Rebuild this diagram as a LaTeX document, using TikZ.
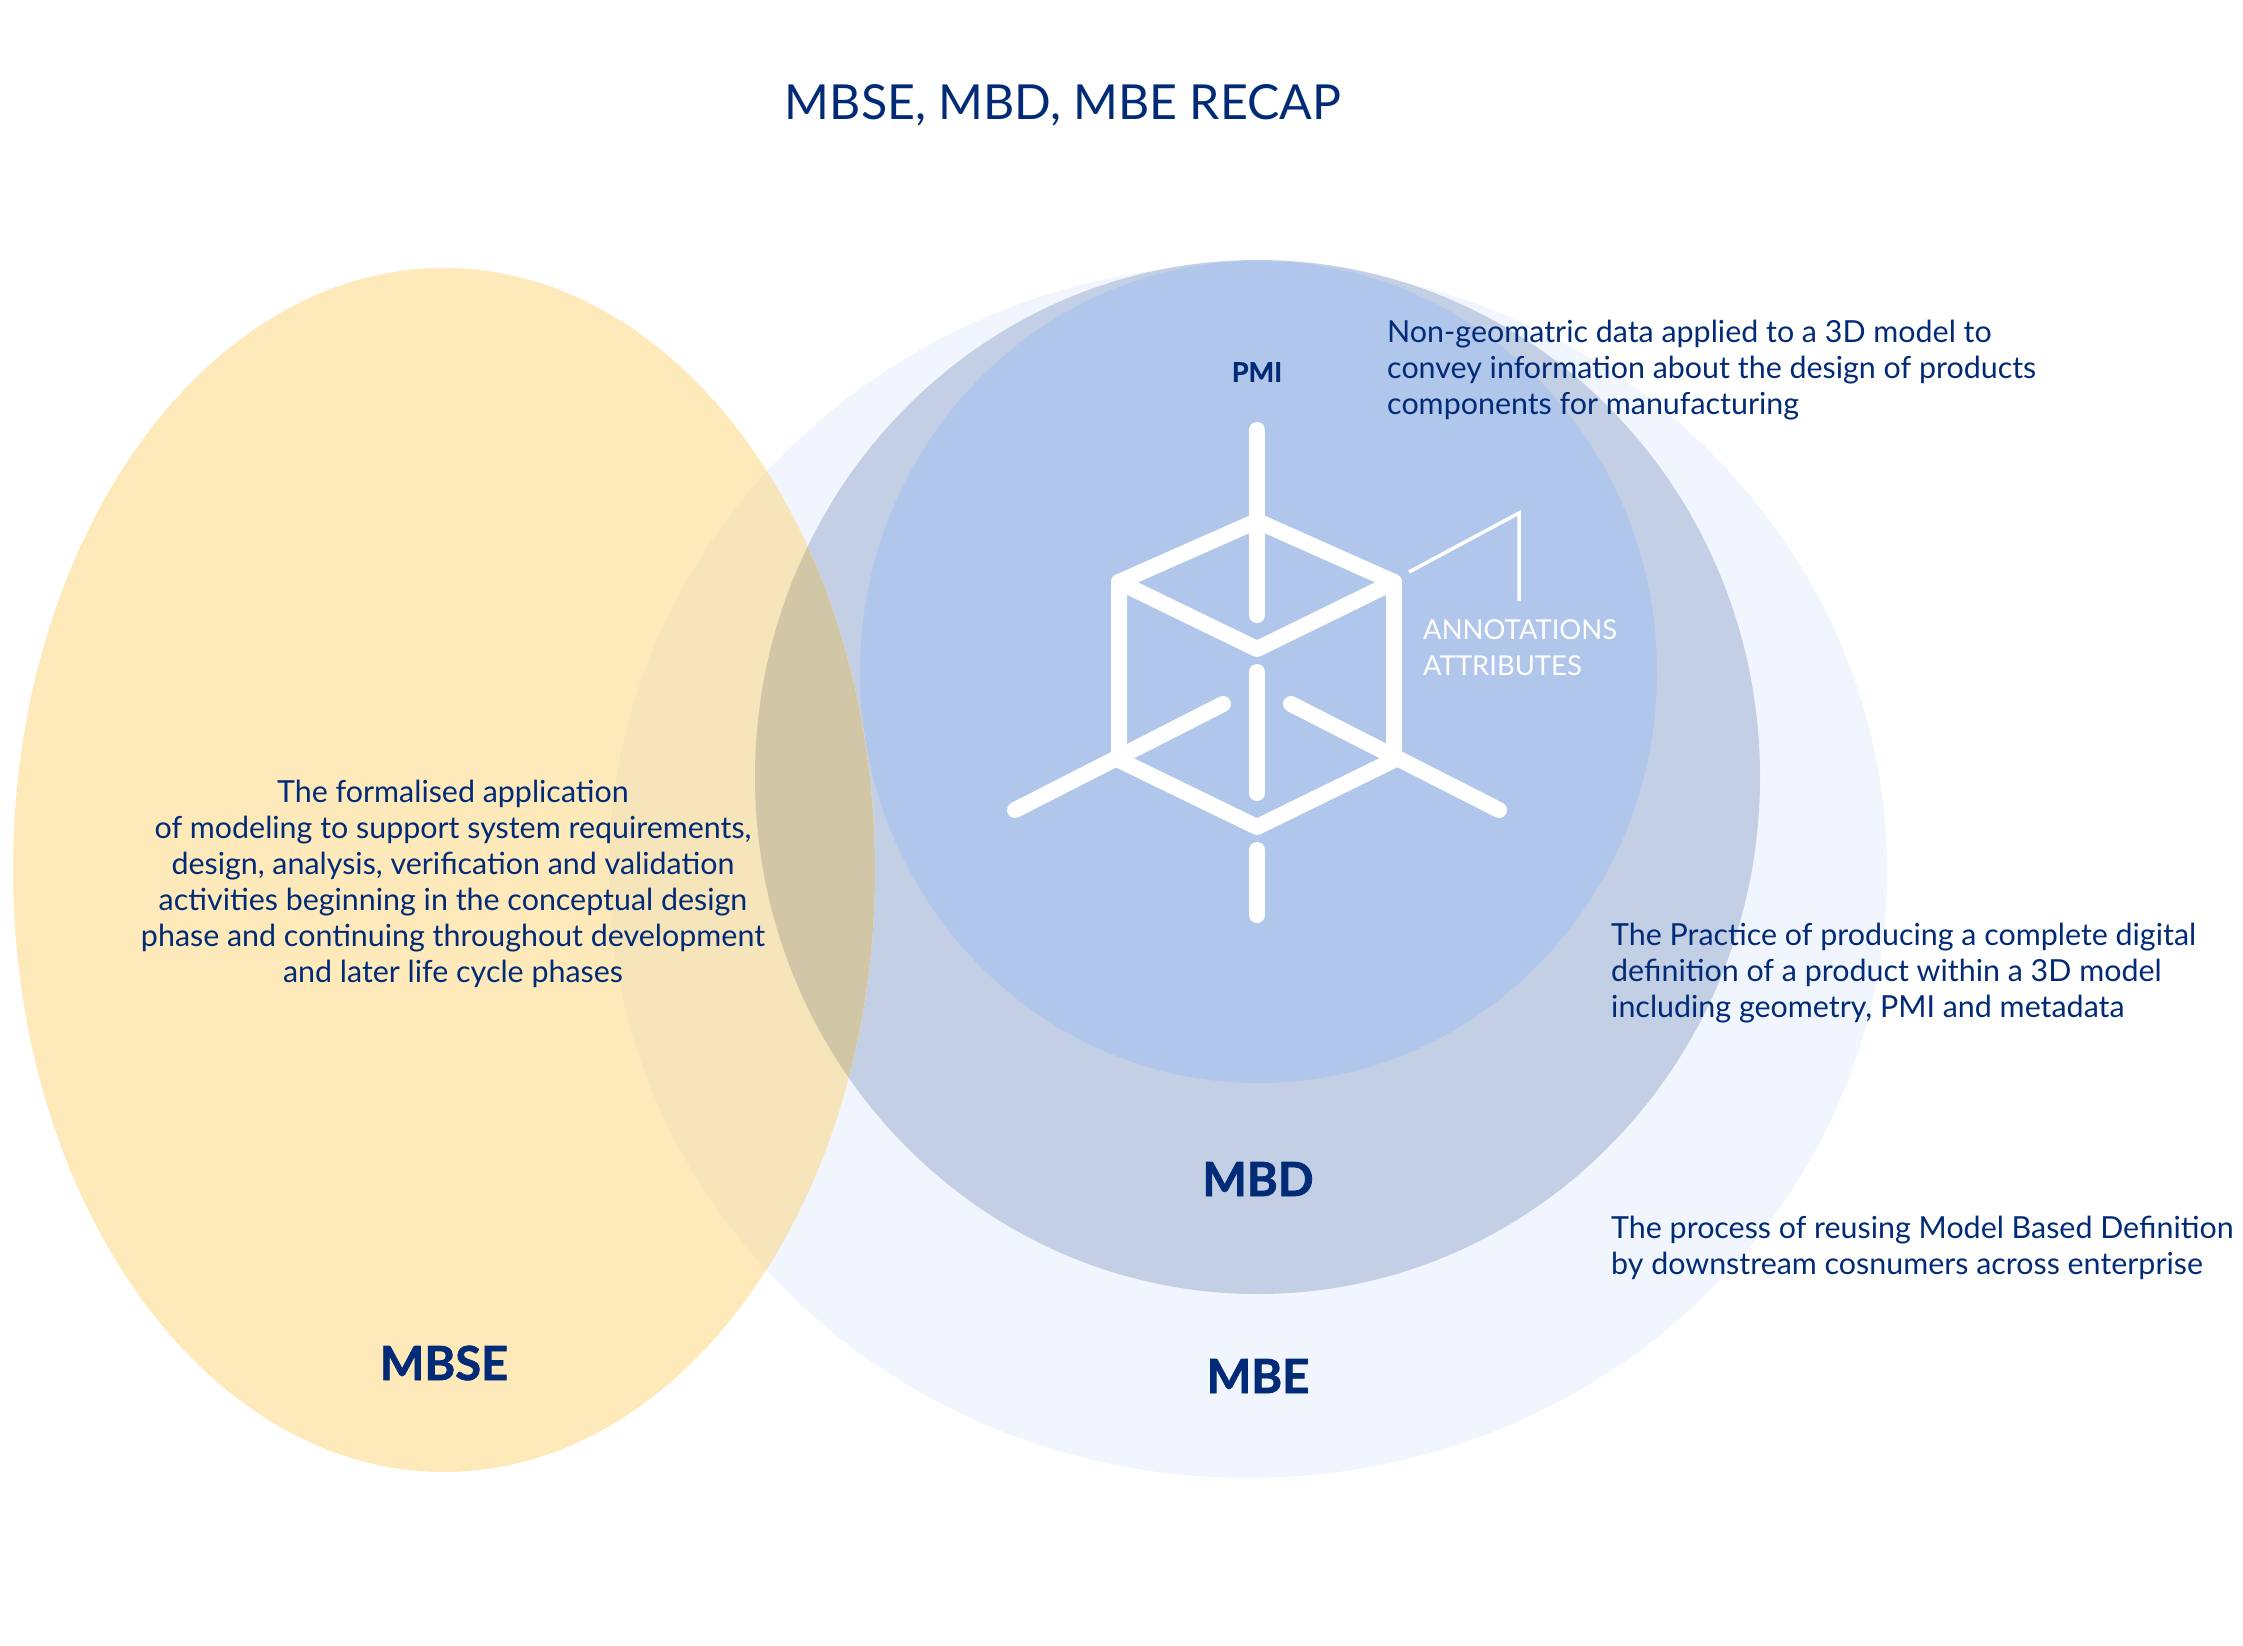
\documentclass[tikz,border=0pt]{standalone}
\usepackage{fontspec}
\setmainfont{Lato}
\definecolor{inkblue}{HTML}{012B76}
\definecolor{mbsefill}{HTML}{FEE9BA}
\definecolor{mbefill}{HTML}{F1F5FE}
\definecolor{mbdfill}{HTML}{C2CFE5}
\definecolor{pmifill}{HTML}{B1C6EB}
\definecolor{mbsembe}{HTML}{F6E4BA}
\definecolor{mbsembd}{HTML}{D1C6A6}

\begin{document}
\begin{tikzpicture}[x=1pt,y=-1pt,
		body/.style={text=inkblue,font=\fontsize{30.4}{36}\selectfont,inner sep=0pt},
		tag/.style={text=inkblue,font=\fontsize{47}{50}\selectfont\bfseries\addfontfeature{FakeBold=1.5},inner sep=0pt},
		cube/.style={draw=white,line width=16pt,line cap=round,line join=round},
		mbse/.style={x radius=431,y radius=602},
		mbe/.style={x radius=639,y radius=607},
		mbd/.style={x radius=502.5,y radius=517},
		pmi/.style={x radius=398.5,y radius=411}]
		\useasboundingbox (0,0) rectangle (2243,1646);

		\coordinate (S) at (444,870);
		\coordinate (E) at (1248,871);
		\coordinate (D) at (1257.5,777);
		\coordinate (P) at (1258.5,672);

		\fill[mbefill] (E) ellipse [mbe];
		\fill[mbdfill] (D) ellipse [mbd];
		\fill[pmifill] (P) ellipse [pmi];
		\fill[mbsefill] (S) ellipse [mbse];
		% overlap of the yellow one
		\begin{scope}
			\clip (S) ellipse [mbse];
			\fill[mbsembe] (E) ellipse [mbe];
			\fill[mbsembd] (D) ellipse [mbd];
		\end{scope}

		% cube
		\coordinate (T) at (1257,521);
		\coordinate (L) at (1119,582);
		\coordinate (R) at (1394,582);
		\coordinate (F) at (1257,649);
		\coordinate (L') at (1119,760);
		\coordinate (R') at (1394,760);
		\coordinate (F') at (1257,827);

		\draw[cube] (T) -- (R) -- (F) -- (L) -- cycle;
		\draw[cube] (L) -- (L') -- (F') -- (R') -- (R);
		\draw[cube] (1257,430) -- (1257,615);
		\draw[cube] (1257,672) -- (1257,793);
		\draw[cube] (1257,850) -- (1257,915);
		\draw[cube] (1015,810) -- (1223,704);
		\draw[cube] (1499,810) -- (1291,704);
		\draw[white,line width=3.5pt] (1409,572) -- (1519,513) -- (1519,601);

		\node[tag,font=\fontsize{27}{30}\selectfont\bfseries\addfontfeature{FakeBold=1}] (pmilabel) at (1257,372){PMI};
		\node[tag] (mbdlabel) at (1258,1179){MBD};
		\node[tag] (mbelabel) at (1258,1376){MBE};
		\node[tag] (mbselabel) at (444,1363){MBSE};

		\node[body,font=\fontsize{48.3}{56}\selectfont] (title) at (1063,105){MBSE, MBD, MBE RECAP};

		\node[body,align=center] (mbsetext) at (453,884){The formalised application\\
			of modeling to support system requirements,\\
			design, analysis, verification and validation\\
			activities beginning in the conceptual design\\
			phase and continuing throughout development\\
			and later life cycle phases};
		\node[body,align=left,anchor=west] (pmitext) at (1387,370){Non-geomatric data applied to a 3D model to\\
			convey information about the design of products\\
			components for manufacturing};
		\node[body,align=left,anchor=west] (mbdtext) at (1611,973){The Practice of producing a complete digital\\
			definition of a product within a 3D model\\
			including geometry, PMI and metadata};
		\node[body,align=left,anchor=west] (mbetext) at (1611,1248){The process of reusing Model Based Definition\\
			by downstream cosnumers across enterprise};
		\node[body,text=white,font=\fontsize{27.4}{36}\selectfont,align=left,anchor=west] (annotext) at (1423,648){ANNOTATIONS\\
			ATTRIBUTES};
\end{tikzpicture}
\end{document}
